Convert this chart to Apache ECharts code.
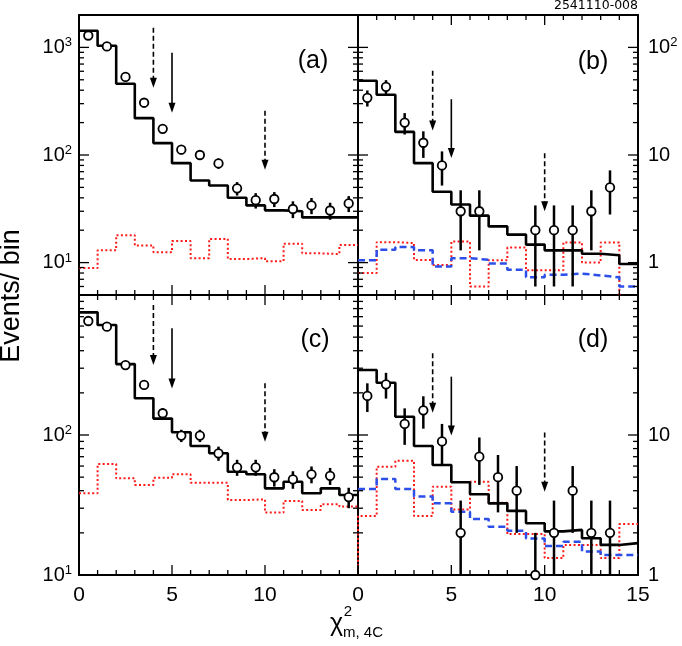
<!DOCTYPE html>
<html>
<head>
<meta charset="utf-8">
<script src="https://cdn.jsdelivr.net/npm/echarts@6/dist/echarts.min.js"></script>
<style>
html, body { margin: 0; padding: 0; background: #fff; }
#chart-box { width: 682px; height: 646px; }
</style>
</head>
<body>
<div id="chart-box"></div>
<script>
// chi2 bins, width 1 from 0 to 15
var binEdges = [0, 1, 2, 3, 4, 5, 6, 7, 8, 9, 10, 11, 12, 13, 14, 15];
var binCenters = [0.5, 1.5, 2.5, 3.5, 4.5, 5.5, 6.5, 7.5, 8.5, 9.5, 10.5, 11.5, 12.5, 13.5, 14.5];

// cut arrows (dashed, solid, dashed)
var arrowX = [4, 5, 10];
var arrowDashed = [1, 0, 1];

// panel (a)
var aMC = [1430, 1037, 459, 220, 129, 84, 58, 52, 40, 34, 30.6, 30, 26.3, 26.3, 26.3];
var aData = [1290, 1020, 531, 306, 175, 112, 100, 83.5, 49, 38, 39, 31.5, 34, 30.5, 35.5];
var aErr = [36, 32, 23, 17.5, 13, 10.6, 10, 9.1, 7, 6.2, 6.2, 5.6, 5.8, 5.5, 6];
var aRed = [8.9, 13, 18, 14.4, 12.5, 15.9, 11, 16.6, 10.8, 11, 10.3, 15, 12.2, 12, 14.6];
var aArrowTop = [1520, 893, 258];
var aArrowTip = [422, 247, 73];

// panel (b)
var bMC = [49, 36.3, 16.4, 8.4, 4.56, 3.47, 2.73, 2.17, 1.82, 1.47, 1.3, 1.3, 1.21, 1.17, 0.97];
var bData = [34, 43, 20, 13, 8, 3, 3, null, null, 2, 2, 2, 3, 5, null];
var bErr = [5.8, 6.6, 4.5, 3.6, 2.8, 1.7, 1.7, 0, 0, 1.4, 1.4, 1.4, 1.7, 2.2, 0];
var bRed = [0.8, 1.55, 1.52, 1.06, 0.95, 1.57, 0.6, 1.05, 1.38, 0.85, 0.85, 1.54, 1.0, 1.54, 0.3];
var bBlue = [1.05, 1.32, 1.4, 1.3, 0.92, 1.1, 1.06, 0.98, 0.86, 0.73, 0.77, 0.79, 0.76, 0.73, 0.6];
var bArrowTop = [60.7, 33, 10.4];
var bArrowTip = [16.9, 9.4, 3.0];

// panel (c)
var cMC = [752, 611, 321, 183, 131, 104.5, 83.5, 74, 54.7, 52.4, 41.6, 46.4, 38.4, 41.6, 37.3];
var cData = [652, 594, 316, 228, 143, 99, 99, 74, 58.8, 58.8, 49.9, 48.2, 52.4, 51.1, 36];
var cErr = [25.5, 24.4, 17.8, 15.1, 12, 10, 10, 8.6, 7.7, 7.7, 7.1, 6.9, 7.2, 7.1, 6];
var cRed = [38.4, 62, 49, 44, 49.5, 52.4, 45.6, 45.6, 34.3, 34.7, 27.9, 33.8, 29.1, 32, 30.8];
var cArrowTop = [848, 578, 234];
var cArrowTip = [316, 215, 89.6];

// panel (d)
var dMC = [29.1, 23.6, 13.5, 8.35, 6.1, 4.6, 3.77, 3.25, 2.87, 2.34, 2.05, 2.1, 1.83, 1.64, 1.69];
var dData = [19, 23, 12, 15, 9, 2, 7, 5, 4, 1, 2, 4, 2, 2, null];
var dErr = [4.4, 4.8, 3.5, 3.9, 3, 1.4, 2.6, 2.2, 2, 1, 1.4, 2, 1.4, 1.4, 0];
var dRed = [2.64, 5.94, 6.55, 2.64, 4.27, 2.94, 4.64, 3.28, 1.96, 1.96, 1.32, 1.64, 1.64, 1.32, 2.31];
var dBlue = [4.12, 4.85, 4.12, 3.63, 3.25, 2.83, 2.51, 2.21, 2.07, 1.82, 1.61, 1.73, 1.47, 1.39, 1.39];
var dArrowTop = [38.3, 26.1, 10.4];
var dArrowTip = [14.4, 9.9, 3.94];

var FONT = '"Liberation Sans", Arial, Helvetica, sans-serif';

var panels = [
    { box: { left: 79, top: 15, width: 279, height: 280 }, yMin: 5, yMax: 2000, side: "left",
      mc: aMC, data: aData, err: aErr, red: aRed, blue: null, arrTop: aArrowTop, arrTip: aArrowTip,
      xLabels: false, lastX: false, topTicks: false, redFromFloor: false },
    { box: { left: 358, top: 15, width: 280, height: 280 }, yMin: 0.5, yMax: 200, side: "right",
      mc: bMC, data: bData, err: bErr, red: bRed, blue: bBlue, arrTop: bArrowTop, arrTip: bArrowTip,
      xLabels: false, lastX: false, topTicks: true, redFromFloor: false },
    { box: { left: 79, top: 295, width: 279, height: 280 }, yMin: 10, yMax: 1000, side: "left",
      mc: cMC, data: cData, err: cErr, red: cRed, blue: null, arrTop: cArrowTop, arrTip: cArrowTip,
      xLabels: true, lastX: false, topTicks: true, redFromFloor: false },
    { box: { left: 358, top: 295, width: 280, height: 280 }, yMin: 1, yMax: 100, side: "right",
      mc: dMC, data: dData, err: dErr, red: dRed, blue: dBlue, arrTop: dArrowTop, arrTip: dArrowTip,
      xLabels: true, lastX: true, topTicks: true, redFromFloor: true }
];

function powerOf(v) {
    var n = Math.round(Math.log10(v));
    return Math.abs(Math.log10(v) - n) < 1e-6 ? n : null;
}
function sciLabel(v) {
    var n = powerOf(v);
    return n === null ? "" : "{m|10}{s|" + n + "}";
}
function plainLabel(v) {
    var n = powerOf(v);
    if (n === null) return "";
    if (n === 0) return "{m|1}";
    if (n === 1) return "{m|10}";
    return "{m|10}{s|" + n + "}";
}

function stepPoints(vals, fromFloor, floor) {
    var pts = vals.map(function (v, k) { return [binEdges[k], v]; });
    pts.push([binEdges[vals.length], vals[vals.length - 1]]);
    if (fromFloor) pts.unshift([binEdges[0], floor]);
    return pts;
}

function seg(a, dx, dy) {
    return { type: "line", shape: { x1: a[0], y1: a[1], x2: a[0] + dx, y2: a[1] + dy },
        style: { stroke: "#000", lineWidth: 1.3 } };
}

// inward frame ticks: linear x every bin, logarithmic y (decades long, 2..9 short)
function frameTickEls(p, api) {
    var kids = [];
    binEdges.forEach(function (t) {
        var len = t % 5 === 0 ? 10 : 5;
        kids.push(seg(api.coord([t, p.yMin]), 0, -len));
        if (p.topTicks) kids.push(seg(api.coord([t, p.yMax]), 0, len));
    });
    var e0 = Math.floor(Math.log10(p.yMin)), e1 = Math.ceil(Math.log10(p.yMax));
    for (var e = e0; e <= e1; e++) {
        for (var m = 1; m <= 9; m++) {
            var v = m * Math.pow(10, e);
            if (v < p.yMin * 0.999 || v > p.yMax * 1.001) continue;
            var l2 = m === 1 ? 10 : 5;
            kids.push(seg(api.coord([0, v]), l2, 0));
            kids.push(seg(api.coord([15, v]), -l2, 0));
        }
    }
    return kids;
}

var grids = [], xAxes = [], yAxes = [], series = [];

panels.forEach(function (p, i) {
    grids.push({ left: p.box.left, top: p.box.top, width: p.box.width, height: p.box.height,
        show: true, borderColor: "#000", borderWidth: 2 });

    xAxes.push({
        gridIndex: i, type: "value", min: 0, max: 15, interval: 5,
        axisLine: { show: false }, axisTick: { show: false }, splitLine: { show: false },
        axisLabel: { show: p.xLabels, margin: 10, fontSize: 21, color: "#000", fontFamily: FONT,
            showMinLabel: true, showMaxLabel: p.lastX }
    });

    yAxes.push({
        gridIndex: i, type: "log", logBase: 10, min: p.yMin, max: p.yMax, position: p.side,
        axisLine: { show: false }, axisTick: { show: false }, splitLine: { show: false },
        axisLabel: {
            margin: p.side === "left" ? 7 : 10, showMinLabel: true, showMaxLabel: false,
            color: "#000", fontFamily: FONT, fontSize: 20,
            formatter: p.side === "left" ? sciLabel : plainLabel,
            rich: {
                m: { fontSize: 20, fontFamily: FONT, color: "#000", lineHeight: 22 },
                s: { fontSize: 13, fontFamily: FONT, color: "#000", verticalAlign: "top", lineHeight: 13 }
            }
        }
    });

    // red dotted histogram
    series.push({
        type: "line", xAxisIndex: i, yAxisIndex: i, step: "end", symbol: "none", silent: true, z: 2,
        data: stepPoints(p.red, p.redFromFloor, p.yMin),
        lineStyle: { color: "#ff1a1a", width: 2, type: [2, 2.4] }
    });

    // blue dashed histogram
    if (p.blue) {
        series.push({
            type: "line", xAxisIndex: i, yAxisIndex: i, step: "end", symbol: "none", silent: true, z: 3,
            data: stepPoints(p.blue, false, p.yMin),
            lineStyle: { color: "#2b4fe8", width: 2.5, type: [7, 4] }
        });
    }

    // black MC histogram
    series.push({
        type: "line", xAxisIndex: i, yAxisIndex: i, step: "end", symbol: "none", silent: true, z: 4,
        data: stepPoints(p.mc, false, p.yMin),
        lineStyle: { color: "#000", width: 2.6 }
    });

    // data error bars and points
    var errPts = [], dataPts = [];
    p.data.forEach(function (v, k) {
        if (v === null) return;
        errPts.push([binCenters[k], v, p.err[k]]);
        dataPts.push([binCenters[k], v]);
    });
    series.push({
        type: "custom", xAxisIndex: i, yAxisIndex: i, silent: true, z: 5, clip: true,
        data: errPts, encode: { x: 0, y: 1 },
        renderItem: function (params, api) {
            var x = api.value(0), v = api.value(1), e = api.value(2);
            if (!e) return null;
            var lo = api.coord([x, Math.max(v - e, p.yMin)]);
            var hi = api.coord([x, Math.min(v + e, p.yMax)]);
            return { type: "line", shape: { x1: lo[0], y1: lo[1], x2: hi[0], y2: hi[1] },
                style: { stroke: "#000", lineWidth: 2.5 } };
        }
    });
    series.push({
        type: "scatter", xAxisIndex: i, yAxisIndex: i, silent: true, z: 7,
        data: dataPts, symbol: "circle", symbolSize: 8.5,
        itemStyle: { color: "#fff", borderColor: "#000", borderWidth: 1.8, opacity: 1 }
    });

    // cut arrows; the first item also carries the frame ticks
    var arrPts = arrowX.map(function (x, k) { return [x, p.arrTop[k], p.arrTip[k], arrowDashed[k]]; });
    series.push({
        type: "custom", xAxisIndex: i, yAxisIndex: i, silent: true, z: 9, clip: false,
        data: arrPts, encode: { x: 0, y: 1 },
        renderItem: function (params, api) {
            var x = api.value(0);
            var top = api.coord([x, api.value(1)]), tip = api.coord([x, api.value(2)]);
            var dashed = api.value(3) === 1;
            var head = 10, half = 3.5;
            var kids = [
                { type: "line", shape: { x1: top[0], y1: top[1], x2: tip[0], y2: tip[1] - head + 1 },
                  style: { stroke: "#000", lineWidth: 1.6, lineDash: dashed ? [5, 3] : null } },
                { type: "polygon", shape: { points: [[tip[0], tip[1]], [tip[0] - half, tip[1] - head], [tip[0] + half, tip[1] - head]] },
                  style: { fill: "#000" } }
            ];
            if (params.dataIndex === 0) kids = kids.concat(frameTickEls(p, api));
            return { type: "group", children: kids };
        }
    });
});

function txt(x, y, s, size, align, extra) {
    var el = { type: "text", x: x, y: y, z: 60,
        style: { text: s, font: size + "px " + FONT, fill: "#000", align: align || "center", verticalAlign: "middle" } };
    if (extra) for (var k in extra) el[k] = extra[k];
    return el;
}

var graphics = [
    txt(313, 61, "(a)", 25),
    txt(593, 62, "(b)", 25),
    txt(315, 340, "(c)", 25),
    txt(593, 340, "(d)", 25),
    txt(638, 6, "2541110-008", 12.5, "right"),
    txt(12, 296, "Events/ bin", 27, "center", { rotation: Math.PI / 2 }),
    txt(336.5, 624, "\u03c7", 25),
    txt(348, 612, "2", 15),
    txt(343, 633, "m, 4C", 15, "left")
];
graphics[4].style.font = '12.5px "DejaVu Sans", sans-serif';

var myChart = echarts.init(document.getElementById("chart-box"));
var option = {
    animation: false,
    grid: grids,
    xAxis: xAxes,
    yAxis: yAxes,
    series: series,
    graphic: graphics
};
myChart.setOption(option);
</script>
</body>
</html>
